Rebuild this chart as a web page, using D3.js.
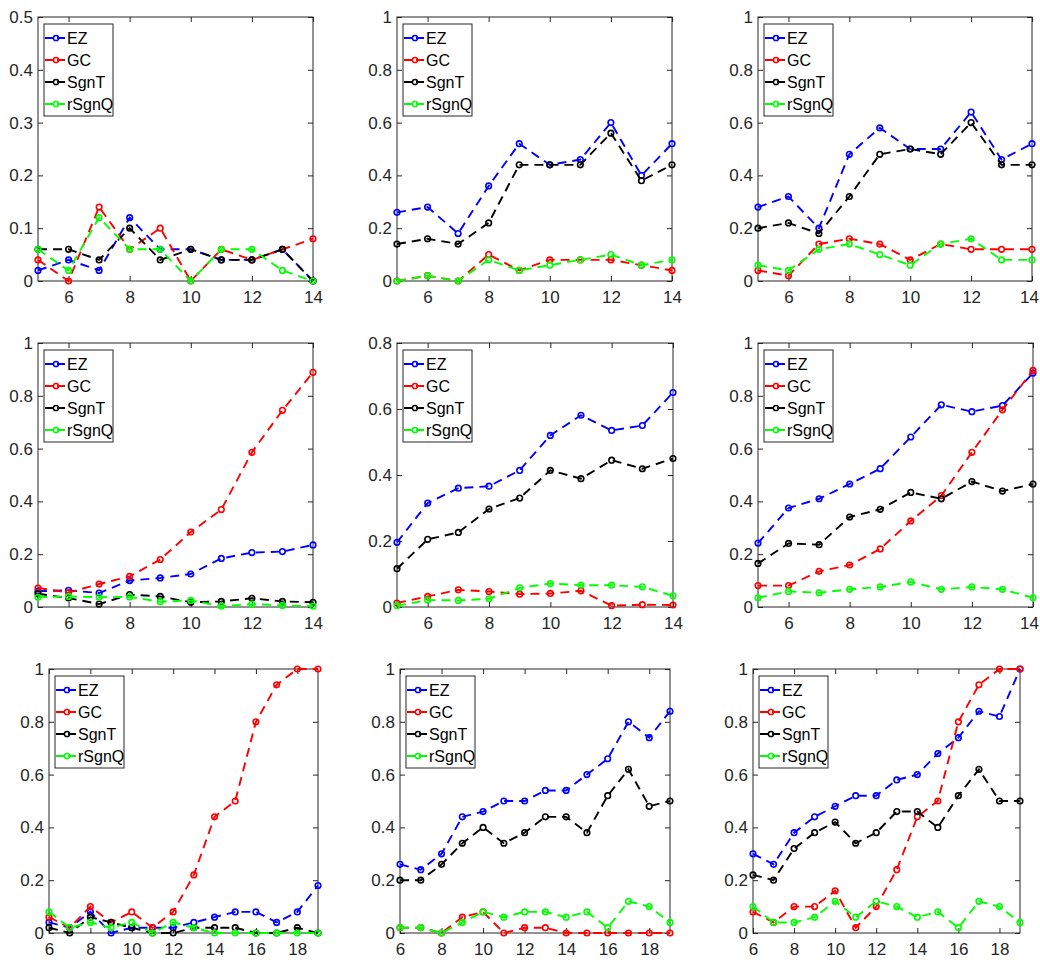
<!DOCTYPE html>
<html>
<head>
<meta charset="utf-8">
<script src="https://cdn.jsdelivr.net/npm/d3@7"></script>
<style>
  body { margin: 0; background: #fff; }
  text { font-family: "Liberation Sans", Arial, sans-serif; }
</style>
</head>
<body>
<svg id="fig" width="1040" height="960"></svg>
<script>
// ----- data -----
const xShort = [5, 6, 7, 8, 9, 10, 11, 12, 13, 14];
const xLong = [6, 7, 8, 9, 10, 11, 12, 13, 14, 15, 16, 17, 18, 19];
const seriesNames = ["EZ", "GC", "SgnT", "rSgnQ"];
const seriesColors = ["#0000ff", "#ff0000", "#000000", "#00ff00"];

const ticksHalf = [0, 0.1, 0.2, 0.3, 0.4, 0.5];
const ticksOne = [0, 0.2, 0.4, 0.6, 0.8, 1];
const ticksEight = [0, 0.2, 0.4, 0.6, 0.8];
const xTicksShort = [6, 8, 10, 12, 14];
const xTicksLong = [6, 8, 10, 12, 14, 16, 18];

// row 1
const ez1 = [0.02, 0.04, 0.02, 0.12, 0.06, 0.06, 0.04, 0.04, 0.06, 0];
const gc1 = [0.04, 0, 0.14, 0.06, 0.10, 0, 0.06, 0.04, 0.06, 0.08];
const sgnt1 = [0.06, 0.06, 0.04, 0.10, 0.04, 0.06, 0.04, 0.04, 0.06, 0];
const rsgnq1 = [0.06, 0.02, 0.12, 0.06, 0.06, 0, 0.06, 0.06, 0.02, 0];

const ez2 = [0.26, 0.28, 0.18, 0.36, 0.52, 0.44, 0.46, 0.60, 0.40, 0.52];
const gc2 = [0, 0.02, 0, 0.10, 0.04, 0.08, 0.08, 0.08, 0.06, 0.04];
const sgnt2 = [0.14, 0.16, 0.14, 0.22, 0.44, 0.44, 0.44, 0.56, 0.38, 0.44];
const rsgnq2 = [0, 0.02, 0, 0.08, 0.04, 0.06, 0.08, 0.10, 0.06, 0.08];

const ez3 = [0.28, 0.32, 0.20, 0.48, 0.58, 0.50, 0.50, 0.64, 0.46, 0.52];
const gc3 = [0.04, 0.02, 0.14, 0.16, 0.14, 0.08, 0.14, 0.12, 0.12, 0.12];
const sgnt3 = [0.20, 0.22, 0.18, 0.32, 0.48, 0.50, 0.48, 0.60, 0.44, 0.44];
const rsgnq3 = [0.06, 0.04, 0.12, 0.14, 0.10, 0.06, 0.14, 0.16, 0.08, 0.08];

// row 2
const ez4 = [0.06, 0.063, 0.053, 0.10, 0.11, 0.125, 0.184, 0.206, 0.21, 0.235];
const gc4 = [0.072, 0.055, 0.087, 0.116, 0.18, 0.284, 0.369, 0.586, 0.745, 0.889];
const sgnt4 = [0.05, 0.034, 0.011, 0.047, 0.04, 0.018, 0.021, 0.033, 0.021, 0.018];
const rsgnq4 = [0.037, 0.04, 0.037, 0.038, 0.02, 0.025, 0.003, 0.011, 0.006, 0.003];

const ez5 = [0.196, 0.315, 0.36, 0.366, 0.414, 0.52, 0.581, 0.535, 0.55, 0.65];
const gc5 = [0.012, 0.032, 0.052, 0.047, 0.039, 0.041, 0.049, 0.004, 0.007, 0.006];
const sgnt5 = [0.116, 0.205, 0.226, 0.297, 0.33, 0.414, 0.389, 0.445, 0.419, 0.45];
const rsgnq5 = [0.004, 0.021, 0.02, 0.025, 0.058, 0.071, 0.066, 0.066, 0.061, 0.034];

const ez6 = [0.242, 0.375, 0.41, 0.466, 0.524, 0.644, 0.766, 0.74, 0.763, 0.886];
const gc6 = [0.081, 0.081, 0.135, 0.159, 0.22, 0.326, 0.422, 0.586, 0.747, 0.896];
const sgnt6 = [0.165, 0.241, 0.236, 0.341, 0.37, 0.434, 0.41, 0.475, 0.439, 0.466];
const rsgnq6 = [0.035, 0.059, 0.054, 0.067, 0.076, 0.095, 0.067, 0.076, 0.067, 0.035];

// row 3
const ez7 = [0.04, 0.02, 0.08, 0, 0.02, 0.02, 0.02, 0.04, 0.06, 0.08, 0.08, 0.04, 0.08, 0.18];
const gc7 = [0.06, 0.02, 0.10, 0.04, 0.08, 0.02, 0.08, 0.22, 0.44, 0.50, 0.80, 0.94, 1, 1];
const sgnt7 = [0.02, 0, 0.06, 0.04, 0.02, 0, 0, 0.02, 0.02, 0.02, 0, 0, 0.02, 0];
const rsgnq7 = [0.08, 0.02, 0.04, 0.02, 0.04, 0, 0.04, 0.02, 0, 0, 0, 0, 0, 0];

const ez8 = [0.26, 0.24, 0.30, 0.44, 0.46, 0.50, 0.50, 0.54, 0.54, 0.60, 0.66, 0.80, 0.74, 0.84];
const gc8 = [0.02, 0.02, 0, 0.06, 0.08, 0, 0.02, 0.02, 0, 0, 0, 0, 0, 0];
const sgnt8 = [0.20, 0.20, 0.26, 0.34, 0.40, 0.34, 0.38, 0.44, 0.44, 0.38, 0.52, 0.62, 0.48, 0.50];
const rsgnq8 = [0.02, 0.02, 0, 0.04, 0.08, 0.06, 0.08, 0.08, 0.06, 0.08, 0.02, 0.12, 0.10, 0.04];

const ez9 = [0.30, 0.26, 0.38, 0.44, 0.48, 0.52, 0.52, 0.58, 0.60, 0.68, 0.74, 0.84, 0.82, 1];
const gc9 = [0.08, 0.04, 0.10, 0.10, 0.16, 0.02, 0.10, 0.24, 0.44, 0.50, 0.80, 0.94, 1, 1];
const sgnt9 = [0.22, 0.20, 0.32, 0.38, 0.42, 0.34, 0.38, 0.46, 0.46, 0.40, 0.52, 0.62, 0.50, 0.50];
const rsgnq9 = [0.10, 0.04, 0.04, 0.06, 0.12, 0.06, 0.12, 0.10, 0.06, 0.08, 0.02, 0.12, 0.10, 0.04];

// ----- layout: plot boxes [left, top, right, bottom] -----
const panels = [
  {xs: xShort, ys: [ez1, gc1, sgnt1, rsgnq1], yMax: 0.5, yTicks: ticksHalf, xTicks: xTicksShort, box: [38, 17, 313, 281]},
  {xs: xShort, ys: [ez2, gc2, sgnt2, rsgnq2], yMax: 1, yTicks: ticksOne, xTicks: xTicksShort, box: [397, 17, 672, 281]},
  {xs: xShort, ys: [ez3, gc3, sgnt3, rsgnq3], yMax: 1, yTicks: ticksOne, xTicks: xTicksShort, box: [758, 17, 1032, 281]},
  {xs: xShort, ys: [ez4, gc4, sgnt4, rsgnq4], yMax: 1, yTicks: ticksOne, xTicks: xTicksShort, box: [38, 343, 313, 607]},
  {xs: xShort, ys: [ez5, gc5, sgnt5, rsgnq5], yMax: 0.8, yTicks: ticksEight, xTicks: xTicksShort, box: [397, 343, 673, 607]},
  {xs: xShort, ys: [ez6, gc6, sgnt6, rsgnq6], yMax: 1, yTicks: ticksOne, xTicks: xTicksShort, box: [758, 343, 1033, 607]},
  {xs: xLong, ys: [ez7, gc7, sgnt7, rsgnq7], yMax: 1, yTicks: ticksOne, xTicks: xTicksLong, box: [49, 669, 318, 933]},
  {xs: xLong, ys: [ez8, gc8, sgnt8, rsgnq8], yMax: 1, yTicks: ticksOne, xTicks: xTicksLong, box: [400, 669, 670, 933]},
  {xs: xLong, ys: [ez9, gc9, sgnt9, rsgnq9], yMax: 1, yTicks: ticksOne, xTicks: xTicksLong, box: [753, 669, 1020, 933]}
];

const svg = d3.select("svg#fig");
const figWidth = +svg.attr("width");
const axisColor = "#262626";
const tickLen = 5;

panels.forEach(p => {
  const [l, t, r, b] = p.box;
  const x = d3.scaleLinear().domain(d3.extent(p.xs)).range([l, r]);
  const y = d3.scaleLinear().domain([0, p.yMax]).range([b, t]);

  const g = svg.append("g").attr("class", "panel");

  // axes, ticks pointing inward on all four sides
  const fmt = d3.format("~g");
  const bottom = g.append("g").attr("transform", "translate(0," + b + ")")
    .call(d3.axisBottom(x).tickValues(p.xTicks).tickSize(-tickLen).tickSizeOuter(0).tickPadding(10));
  const left = g.append("g").attr("transform", "translate(" + l + ",0)")
    .call(d3.axisLeft(y).tickValues(p.yTicks).tickFormat(fmt).tickSize(-tickLen).tickSizeOuter(0).tickPadding(5));
  const top = g.append("g").attr("transform", "translate(0," + t + ")")
    .call(d3.axisTop(x).tickValues(p.xTicks).tickSize(-tickLen).tickSizeOuter(0).tickFormat(""));
  const right = g.append("g").attr("transform", "translate(" + r + ",0)")
    .call(d3.axisRight(y).tickValues(p.yTicks).tickSize(-tickLen).tickSizeOuter(0).tickFormat(""));

  [bottom, left, top, right].forEach(a => {
    a.select(".domain").remove();
    a.selectAll("line").attr("stroke", axisColor);
    a.selectAll("text").attr("fill", axisColor).style("font-size", "17px")
      .style("font-family", "'Liberation Sans', Arial, sans-serif");
  });

  // keep tick labels near the right edge inside the figure
  bottom.selectAll("text").each(function() {
    const bb = this.getBoundingClientRect();
    if (bb.right > figWidth - 1) {
      d3.select(this).attr("x", -(bb.right - figWidth + 1));
    }
  });

  g.append("rect")
    .attr("x", l).attr("y", t)
    .attr("width", r - l).attr("height", b - t)
    .attr("fill", "none").attr("stroke", axisColor).attr("stroke-width", 1);

  // series
  const line = d3.line().x((d, i) => x(p.xs[i])).y(d => y(d));
  p.ys.forEach((vals, si) => {
    g.append("path")
      .attr("d", line(vals))
      .attr("fill", "none")
      .attr("stroke", seriesColors[si])
      .attr("stroke-width", 1.9)
      .attr("stroke-dasharray", "9,6");
    g.selectAll(null).data(vals).join("circle")
      .attr("cx", (d, i) => x(p.xs[i]))
      .attr("cy", d => y(d))
      .attr("r", 2.8)
      .attr("fill", "none")
      .attr("stroke", seriesColors[si])
      .attr("stroke-width", 1.6);
  });

  // legend
  const lx = l + 6, ly = t + 7;
  const leg = g.append("g").attr("class", "legend");
  leg.append("rect")
    .attr("x", lx).attr("y", ly).attr("width", 69).attr("height", 92)
    .attr("fill", "#fff").attr("stroke", axisColor).attr("stroke-width", 1);
  seriesNames.forEach((name, si) => {
    const cy = ly + 14 + si * 22;
    leg.append("line")
      .attr("x1", lx + 1).attr("x2", lx + 21).attr("y1", cy).attr("y2", cy)
      .attr("stroke", seriesColors[si]).attr("stroke-width", 1.9)
      .attr("stroke-dasharray", "9,3");
    leg.append("circle")
      .attr("cx", lx + 12).attr("cy", cy).attr("r", 2.6)
      .attr("fill", "none").attr("stroke", seriesColors[si]).attr("stroke-width", 1.5);
    leg.append("text")
      .attr("x", lx + 23).attr("y", cy).attr("dy", "0.36em")
      .style("font-size", "16px").attr("fill", "#000")
      .text(name);
  });
});
</script>
</body>
</html>
